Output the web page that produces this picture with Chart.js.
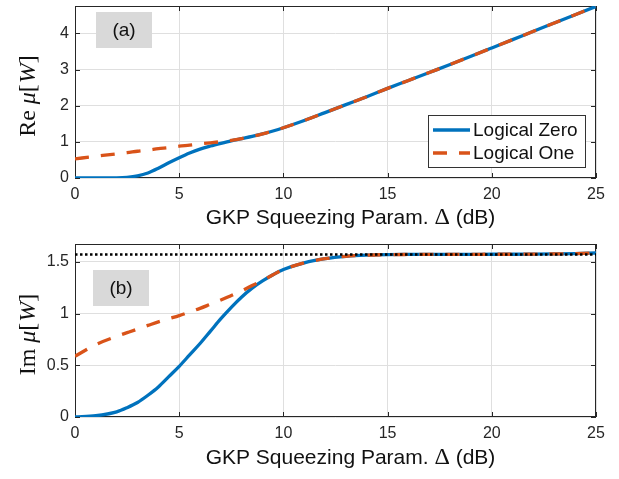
<!DOCTYPE html>
<html>
<head>
<meta charset="utf-8">
<script src="https://cdn.jsdelivr.net/npm/chart.js@4.4.1/dist/chart.umd.min.js"></script>
<style>
  html, body { margin: 0; padding: 0; background: #fff; }
  #wrap { position: relative; width: 619px; height: 479px; }
  #wrap canvas { position: absolute; left: 0; }
  #reChart { top: 0; }
  #imChart { top: 238px; }
</style>
</head>
<body>
<div id="wrap">
  <canvas id="reChart" width="619" height="238"></canvas>
  <canvas id="imChart" width="619" height="241"></canvas>
</div>
<script>
// values
const deltaDb = [0, 1, 2, 2.5, 3, 3.5, 4, 4.5, 5, 5.5, 6, 6.5, 7, 7.5, 8, 8.5, 9, 9.5, 10,
  11, 12, 13, 14, 15, 16, 17, 18, 19, 20, 21, 22, 23, 24, 25];
const reZero = [0, 0, 0.005, 0.02, 0.06, 0.14, 0.27, 0.42, 0.56, 0.69, 0.80, 0.885, 0.96, 1.03, 1.09, 1.15, 1.22, 1.30, 1.39,
  1.59, 1.81, 2.03, 2.25, 2.48, 2.70, 2.92, 3.14, 3.37, 3.60, 3.83, 4.06, 4.29, 4.52, 4.75];
const reOne = [0.53, 0.60, 0.67, 0.70, 0.74, 0.77, 0.81, 0.84, 0.88, 0.91, 0.945, 0.975, 1.005, 1.04, 1.09, 1.15, 1.22, 1.30, 1.39,
  1.59, 1.81, 2.03, 2.25, 2.48, 2.70, 2.92, 3.14, 3.37, 3.60, 3.83, 4.06, 4.29, 4.52, 4.75];
const imZero = [0, 0.012, 0.05, 0.09, 0.14, 0.21, 0.29, 0.39, 0.49, 0.60, 0.71, 0.83, 0.95, 1.06, 1.16, 1.245, 1.315, 1.375, 1.425,
  1.49, 1.53, 1.553, 1.564, 1.569, 1.571, 1.572, 1.572, 1.572, 1.573, 1.573, 1.574, 1.576, 1.579, 1.585];
const imOne = [0.587, 0.70, 0.78, 0.815, 0.85, 0.885, 0.92, 0.95, 0.98, 1.015, 1.05, 1.09, 1.13, 1.175, 1.22, 1.27, 1.32, 1.375, 1.425,
  1.49, 1.53, 1.553, 1.564, 1.569, 1.571, 1.572, 1.572, 1.572, 1.573, 1.573, 1.574, 1.576, 1.579, 1.585];
const limitX = [0, 25];
const limitY = [1.5708, 1.5708];   // pi/2

const xTicks = [0, 5, 10, 15, 20, 25];
const reTicks = [0, 1, 2, 3, 4];
const imTicks = [0, 0.5, 1, 1.5];
const seriesNames = ['Logical Zero', 'Logical One'];
const xTitle = ['GKP Squeezing Param. ', '\u0394', ' (dB)'];

const BLUE = '#0072BD', ORANGE = '#D95319', AXIS = '#262626';
const SANS = '"Liberation Sans", Arial, sans-serif';
const SERIF = '"Liberation Serif", "Times New Roman", serif';

const pts = (xs, ys) => xs.map((x, i) => ({ x: x, y: ys[i] }));

function curve(label, xs, ys, color, dash, order) {
  return {
    label: label,
    data: pts(xs, ys),
    borderColor: color,
    backgroundColor: color,
    borderWidth: 3.3,
    borderDash: dash,
    borderCapStyle: 'butt',
    pointRadius: 0,
    fill: false,
    cubicInterpolationMode: 'monotone',
    order: order
  };
}

// frame, inward ticks, panel tag, axis titles and legend, MATLAB style
const figPlugin = {
  id: 'fig',
  beforeDatasetsDraw(chart, args, opts) {
    const { ctx, chartArea: a } = chart;
    ctx.save();
    // panel tag
    const p = opts.panel;
    ctx.fillStyle = '#d9d9d9';
    ctx.fillRect(a.left + p.dx, a.top + p.dy, 56, 36);
    ctx.fillStyle = '#111';
    ctx.font = '19px ' + SANS;
    ctx.textAlign = 'center';
    ctx.textBaseline = 'middle';
    ctx.fillText(p.text, a.left + p.dx + 28, a.top + p.dy + 19);

    // box + inward ticks
    ctx.strokeStyle = AXIS;
    ctx.lineWidth = 1;
    ctx.strokeRect(a.left + 0.5, a.top + 0.5, a.right - a.left - 1, a.bottom - a.top - 1);
    ctx.beginPath();
    chart.scales.x.ticks.forEach(t => {
      const x = Math.round(chart.scales.x.getPixelForValue(t.value)) + 0.5;
      ctx.moveTo(x, a.bottom); ctx.lineTo(x, a.bottom - 5);
      ctx.moveTo(x, a.top); ctx.lineTo(x, a.top + 5);
    });
    chart.scales.y.ticks.forEach(t => {
      const y = Math.round(chart.scales.y.getPixelForValue(t.value)) + 0.5;
      ctx.moveTo(a.left, y); ctx.lineTo(a.left + 5, y);
      ctx.moveTo(a.right, y); ctx.lineTo(a.right - 5, y);
    });
    ctx.stroke();

    // x title
    ctx.fillStyle = '#111';
    ctx.textAlign = 'left';
    ctx.textBaseline = 'alphabetic';
    const xf = ['21px ' + SANS, '24px ' + SERIF, '21px ' + SANS];
    let w = 0;
    xTitle.forEach((s, i) => { ctx.font = xf[i]; w += ctx.measureText(s).width; });
    let x = (a.left + a.right) / 2 + 15 - w / 2;
    const by = a.bottom + opts.titleGap;
    xTitle.forEach((s, i) => { ctx.font = xf[i]; ctx.fillText(s, x, by); x += ctx.measureText(s).width; });

    // y title, rotated, with italic mu and W
    const segs = [[opts.yName + ' ', '', 0], ['\u03bc', 'italic ', 0], ['[', '', 1], ['W', 'italic ', 0], [']', '', 0]];
    ctx.translate(29, (a.top + a.bottom) / 2 + 4);
    ctx.rotate(-Math.PI / 2);
    w = 0;
    segs.forEach(s => { ctx.font = s[1] + '24px ' + SERIF; w += ctx.measureText(s[0]).width + s[2]; });
    x = -w / 2;
    ctx.textBaseline = 'middle';
    segs.forEach(s => { ctx.font = s[1] + '24px ' + SERIF; ctx.fillText(s[0], x, 0); x += ctx.measureText(s[0]).width + s[2]; });
    ctx.restore();
  },
  afterDatasetsDraw(chart, args, opts) {
    if (!opts.legend) return;
    const { ctx, chartArea: a } = chart;
    const bx = a.right - 168, by = a.bottom - 63, bw = 157, bh = 52;
    ctx.save();
    ctx.fillStyle = '#fff';
    ctx.fillRect(bx, by, bw, bh);
    ctx.strokeStyle = '#333';
    ctx.lineWidth = 1;
    ctx.strokeRect(bx + 0.5, by + 0.5, bw, bh);
    const rows = chart.data.datasets.filter(d => seriesNames.includes(d.label));
    rows.forEach((d, i) => {
      const y = by + 15 + i * 23;
      ctx.strokeStyle = d.borderColor;
      ctx.lineWidth = d.borderWidth;
      ctx.setLineDash(d.borderDash || []);
      ctx.beginPath();
      ctx.moveTo(bx + 5, y); ctx.lineTo(bx + 42, y);
      ctx.stroke();
      ctx.setLineDash([]);
      ctx.fillStyle = '#111';
      ctx.font = '19px ' + SANS;
      ctx.textBaseline = 'middle';
      ctx.fillText(d.label, bx + 45, y + 1);
    });
    ctx.restore();
  }
};

function axes(yMax, yTicks, xHeight) {
  const tickFont = { family: SANS, size: 16 };
  return {
    x: {
      type: 'linear', min: 0, max: 25,
      afterBuildTicks: s => { s.ticks = xTicks.map(v => ({ value: v })); },
      afterFit: s => { s.height = xHeight; s.paddingLeft = 0; s.paddingRight = 0; },
      grid: { color: '#dfdfdf', drawTicks: false },
      border: { display: false },
      ticks: { padding: 7, color: AXIS, font: tickFont, maxRotation: 0, callback: v => String(v) }
    },
    y: {
      type: 'linear', min: 0, max: yMax,
      afterBuildTicks: s => { s.ticks = yTicks.map(v => ({ value: v })); },
      afterFit: s => { s.width = 75; s.paddingTop = 0; s.paddingBottom = 0; },
      grid: { color: '#dfdfdf', drawTicks: false },
      border: { display: false },
      ticks: { padding: 6, color: AXIS, font: tickFont, callback: v => String(v) }
    }
  };
}

new Chart(document.getElementById('reChart'), {
  type: 'line',
  data: {
    datasets: [
      curve(seriesNames[0], deltaDb, reZero, BLUE, [], 2),
      curve(seriesNames[1], deltaDb, reOne, ORANGE, [14, 12], 1)
    ]
  },
  options: {
    responsive: false,
    animation: false,
    layout: { padding: { top: 6, right: 23, left: 0, bottom: 0 } },
    plugins: {
      legend: { display: false },
      tooltip: { enabled: false },
      fig: { panel: { text: '(a)', dx: 21, dy: 6 }, yName: 'Re', titleGap: 46, legend: true }
    },
    scales: axes(4.76, reTicks, 60)
  },
  plugins: [figPlugin]
});

new Chart(document.getElementById('imChart'), {
  type: 'line',
  data: {
    datasets: [
      curve(seriesNames[0], deltaDb, imZero, BLUE, [], 2),
      curve(seriesNames[1], deltaDb, imOne, ORANGE, [14, 12], 1),
      {
        label: 'pi/2',
        data: pts(limitX, limitY),
        borderColor: '#000',
        borderWidth: 2.5,
        borderDash: [2.5, 2.5],
        borderCapStyle: 'butt',
        pointRadius: 0,
        fill: false,
        order: 0
      }
    ]
  },
  options: {
    responsive: false,
    animation: false,
    layout: { padding: { top: 6, right: 23, left: 0, bottom: 0 } },
    plugins: {
      legend: { display: false },
      tooltip: { enabled: false },
      fig: { panel: { text: '(b)', dx: 18, dy: 26 }, yName: 'Im', titleGap: 47, legend: false }
    },
    scales: axes(1.672, imTicks, 62)
  },
  plugins: [figPlugin]
});
</script>
</body>
</html>
